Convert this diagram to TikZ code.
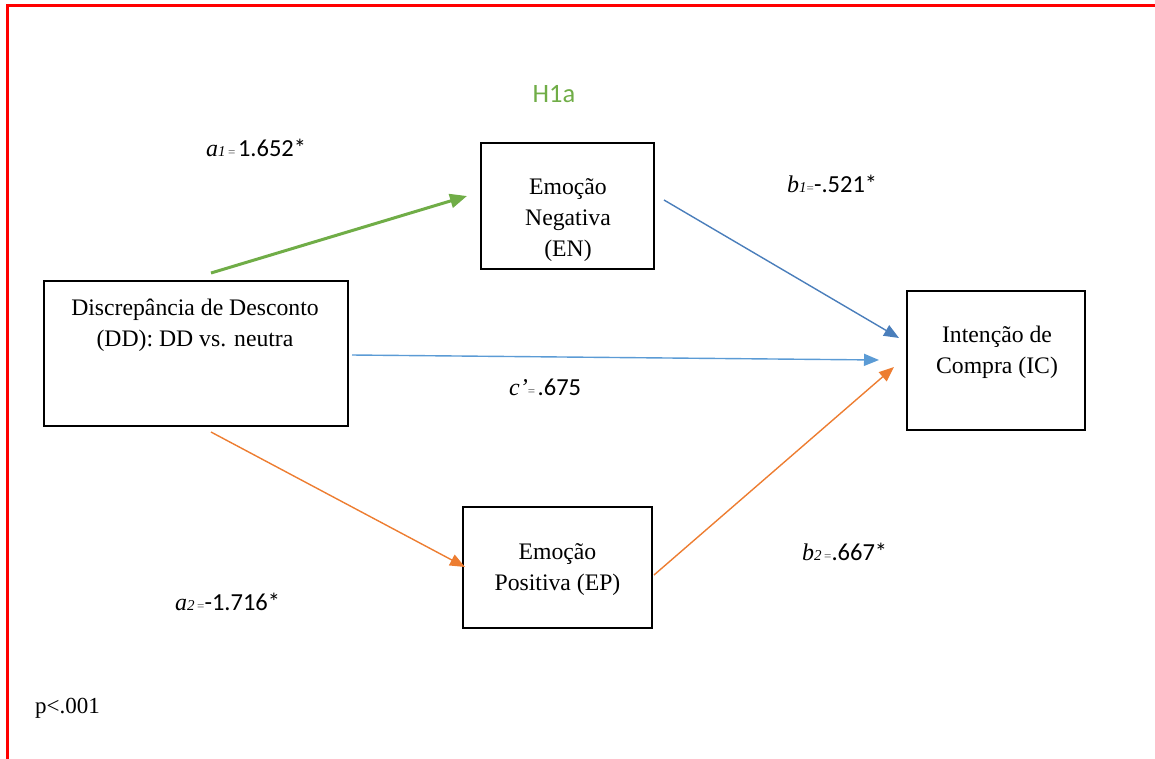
\documentclass[tikz,border=0pt]{standalone}
\usepackage{fontspec}
\setmainfont{Liberation Serif}
\newfontfamily\calibri{Carlito}
\usetikzlibrary{arrows.meta}
\definecolor{cgreen}{HTML}{70AD47}
\definecolor{cblueA}{HTML}{4A7EBB}
\definecolor{cblueB}{HTML}{5B9BD5}
\definecolor{corange}{HTML}{ED7D31}
\newcommand{\boxfont}{\fontsize{23.7}{31}\selectfont}
\newcommand{\vi}[1]{{\fontsize{24}{28}\selectfont\itshape #1}}
\newcommand{\vs}[1]{{\fontsize{15}{16}\selectfont\itshape #1}}
\newcommand{\veq}{{\fontsize{13}{15}\selectfont\color{black!70}=}}
\newcommand{\vn}[1]{{\calibri\fontsize{24.5}{28}\selectfont #1}}
\tikzset{
  vbox/.style={draw=black, line width=2pt, inner sep=0pt},
  btext/.style={anchor=base, align=center, font=\boxfont, inner sep=0pt},
  lab/.style={anchor=base west, inner sep=0pt},
  thinarrow/.style={line width=1.4pt, -{Triangle[length=15pt,width=12pt]}},
  thickarrow/.style={line width=3pt, -{Triangle[length=17pt,width=14pt]}}
}
\begin{document}
\begin{tikzpicture}[x=1pt,y=-1pt]
\useasboundingbox (0,0) rectangle (1155,758);
% red frame
\draw[red, line width=3pt] (7,760) -- (7,5) -- (1158,5);

% boxes
\node[vbox, minimum width=304pt, minimum height=145pt] (dd) at (196,353.5) {};
\node[vbox, minimum width=173pt, minimum height=126pt] (en) at (567.5,206) {};
\node[vbox, minimum width=178pt, minimum height=139pt] (ic) at (996,360.5) {};
\node[vbox, minimum width=189pt, minimum height=121pt] (ep) at (557.5,567.5) {};

% box texts (anchor base = baseline of the last line)
\node[btext] (ddt) at (195,346) {Discrepância de Desconto\\(DD): DD vs. neutra};
\node[btext] (ent) at (568,256) {Emoção\\Negativa\\(EN)};
\node[btext] (ict) at (997,373) {Intenção de\\Compra (IC)};
\node[btext] (ept) at (557.5,590) {Emoção\\Positiva (EP)};

% connector endpoints
\coordinate (g1) at (211,273);
\coordinate (g2) at (467,196);
\coordinate (u1) at (664,200);
\coordinate (u2) at (899,338);
\coordinate (m1) at (352,355);
\coordinate (m2) at (879,360);
\coordinate (o1) at (211,432);
\coordinate (o2) at (465,567);
\coordinate (p1) at (654,575);
\coordinate (p2) at (894,367);

\draw[thickarrow, cgreen] (g1) -- (g2);
\draw[thinarrow, cblueA] (u1) -- (u2);
\draw[thinarrow, cblueB] (m1) -- (m2);
\draw[thinarrow, corange] (o1) -- (o2);
\draw[thinarrow, corange] (p1) -- (p2);

% labels
\node[anchor=base, inner sep=0pt, text=cgreen] (h1a) at (554,102) {\calibri\fontsize{26.5}{30}\selectfont H1a};
\node[lab] (la1) at (206,156) {\vi{a}\vs{1} \veq\ \vn{1.652*}};
\node[lab] (lb1) at (787,192) {\vi{b}\vs{1}\veq\vn{-.521*}};
\node[lab] (lc) at (509,395) {\vi{c’}\veq\ \vn{.675}};
\node[lab] (lb2) at (802,560) {\vi{b}\vs{2} \veq\vn{.667*}};
\node[lab] (la2) at (175,610) {\vi{a}\vs{2} \veq\vn{-1.716*}};
\node[lab] (pv) at (35,713) {\fontsize{23}{28}\selectfont p<.001};
\end{tikzpicture}
\end{document}
